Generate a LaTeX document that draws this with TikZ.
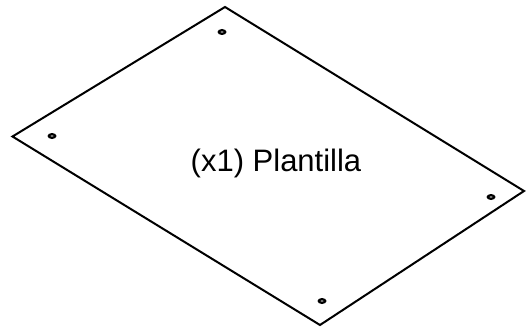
\documentclass[tikz,border=0pt]{standalone}
\usepackage{fontspec}
\setmainfont{Liberation Sans}
\usetikzlibrary{positioning, shapes.geometric}

\begin{document}
\begin{tikzpicture}[x=1pt,y=1pt]
    \tikzset{plate/.style={draw=black,line width=2pt,line join=miter}}
    \tikzset{hole/.style={ellipse,fill=black,inner sep=0pt,minimum width=9pt,minimum height=6pt}}
    \tikzset{holecore/.style={ellipse,fill=black!45,inner sep=0pt,minimum width=3.5pt,minimum height=1.8pt}}
    \tikzset{label/.style={font=\fontsize{31}{37}\selectfont,inner sep=0pt}}
    \useasboundingbox (0,0) rectangle (526,327);
    % Corners of the plate
    \coordinate (top) at (225,320);
    \coordinate (left) at (12.5,190.5);
    \coordinate (bottom) at (320,2);
    \coordinate (right) at (524,136);
    \draw[plate] (top) -- (right) -- (bottom) -- (left) -- cycle;
    % Mounting holes
    \node[hole] (h1) at (222,295) {};
    \node[hole] (h2) at (52,191) {};
    \node[hole] (h3) at (491,130) {};
    \node[hole] (h4) at (322,26) {};
    \foreach \h in {h1,h2,h3,h4}
        \node[holecore] at (\h) {};
    % Label
    \node[label, anchor=base] (name) at (276,155.5) {(x1) Plantilla};
\end{tikzpicture}
\end{document}
